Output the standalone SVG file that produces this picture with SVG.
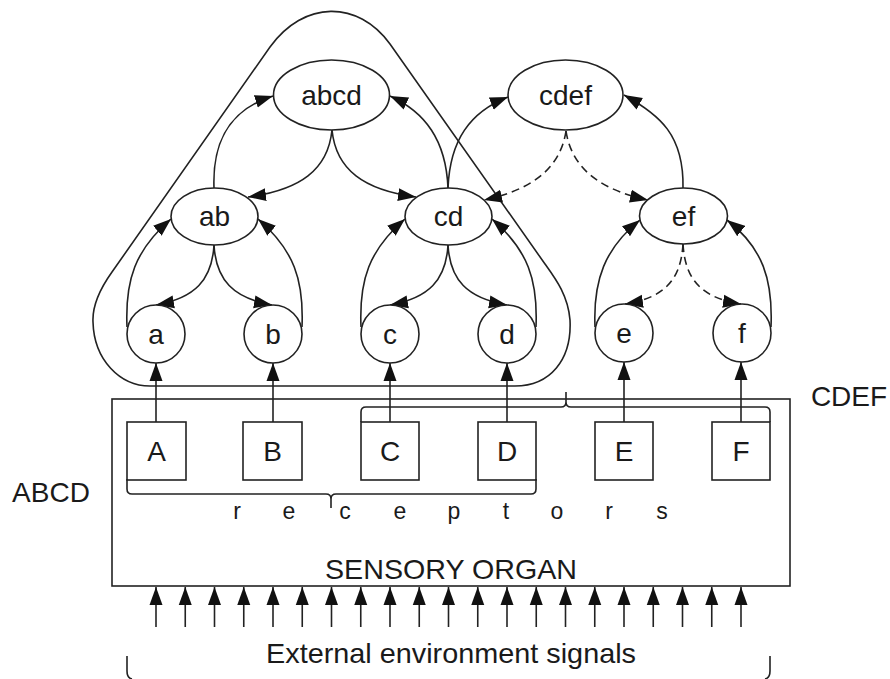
<svg xmlns="http://www.w3.org/2000/svg" width="890" height="679" viewBox="0 0 890 679">
<style>
  .ln{fill:none;stroke:#222;stroke-width:1.6}
  .ds{fill:none;stroke:#222;stroke-width:1.6;stroke-dasharray:8 5}
  .nd{fill:#fff;stroke:#222;stroke-width:1.6}
  .bx{fill:none;stroke:#222;stroke-width:1.6}
  .t{font-family:"Liberation Sans",Arial,sans-serif;fill:#1a1a1a;text-anchor:middle}
  .n{font-size:28px}
  .s{font-size:23px}
</style>
<defs>
  <marker id="ah" markerUnits="userSpaceOnUse" markerWidth="19" markerHeight="14" viewBox="0 0 19 14" refX="18" refY="7" orient="auto">
    <path d="M0,0.5 L18,7 L0,13.5 Z" fill="#111" stroke="none"/>
  </marker>
</defs>
<rect width="890" height="679" fill="#fff"/>

<!-- enclosing loop -->
<path id="loop" class="ln" d="M150,386 H515 C550,386 572,360 570,320 C568,295 555,278 545,264 L390,44 C358,0 304,0 270,47 L112,272 C102,286 92,303 93,322 C94,360 120,386 150,386 Z"/>

<!-- sensory organ -->
<g id="sensory-organ">
  <rect class="bx" x="112" y="399" width="678" height="187"/>
  <text class="t n" x="451" y="579" textLength="252" lengthAdjust="spacingAndGlyphs">SENSORY ORGAN</text>
</g>

<!-- receptors -->
<g id="A"><rect class="bx" x="127" y="422" width="59" height="58"/><text class="t n" x="156.5" y="461">A</text></g>
<g id="B"><rect class="bx" x="243" y="422" width="59" height="58"/><text class="t n" x="272.5" y="461">B</text></g>
<g id="C"><rect class="bx" x="361" y="422" width="58" height="58"/><text class="t n" x="390" y="461">C</text></g>
<g id="D"><rect class="bx" x="478" y="422" width="58" height="58"/><text class="t n" x="507" y="461">D</text></g>
<g id="E"><rect class="bx" x="595" y="422" width="58" height="58"/><text class="t n" x="624" y="461">E</text></g>
<g id="F"><rect class="bx" x="712" y="422" width="58" height="58"/><text class="t n" x="741" y="461">F</text></g>

<!-- braces -->
<g id="brace-ABCD">
  <path class="ln" d="M127,479 V489 Q127,494 132,494 H326 Q331,494 331,499 V508 M331,499 Q331,494 336,494 H531 Q536,494 536,489 V479"/>
  <text class="t n" x="51" y="502">ABCD</text>
</g>
<g id="brace-CDEF">
  <path class="ln" d="M361,422 V412 Q361,407 366,407 H561 Q566,407 566,402 V392 M566,402 Q566,407 571,407 H765 Q770,407 770,412 V422"/>
  <text class="t n" x="849" y="406">CDEF</text>
</g>
<text id="receptors-label" class="t s" x="237 289 345 400 454 506 557 609 662" y="519">receptors</text>

<!-- connectors -->
<g id="connectors" marker-end="url(#ah)">
  <!-- receptor to neuron -->
  <path class="ln" d="M156,422 V363"/>
  <path class="ln" d="M273,422 V363"/>
  <path class="ln" d="M390,422 V363"/>
  <path class="ln" d="M507,422 V363"/>
  <path class="ln" d="M624,422 V362"/>
  <path class="ln" d="M741,422 V362"/>
  <!-- ab group -->
  <path class="ln" d="M127,327 C125,280 135,250 171,219"/>
  <path class="ln" d="M302,327 C304,280 294,250 258,219"/>
  <path class="ln" d="M214,245 C212,280 195,298 156,305"/>
  <path class="ln" d="M214,245 C216,280 233,298 272,305"/>
  <!-- cd group -->
  <path class="ln" d="M361,327 C359,280 369,250 405,219"/>
  <path class="ln" d="M536,327 C538,280 528,250 492,219"/>
  <path class="ln" d="M448,245 C446,280 429,298 390,305"/>
  <path class="ln" d="M448,245 C450,280 467,298 507,305"/>
  <!-- ef group -->
  <path class="ln" d="M595,327 C593,280 605,248 640,220"/>
  <path class="ln" d="M771,327 C773,280 763,248 727,220"/>
  <path class="ds" d="M683,244 C681,280 664,298 625,304"/>
  <path class="ds" d="M683,244 C685,280 702,298 741,304"/>
  <!-- upper level -->
  <path class="ln" d="M214,188 C212,135 235,108 273,96"/>
  <path class="ln" d="M332,130 C328,170 300,190 248,197"/>
  <path class="ln" d="M332,130 C336,170 364,190 416,197"/>
  <path class="ln" d="M448,188 C446,140 425,112 390,96"/>
  <path class="ln" d="M448,188 C450,140 470,112 508,97"/>
  <path class="ds" d="M566,131 C560,170 530,190 484,200"/>
  <path class="ds" d="M566,131 C572,170 602,190 648,200"/>
  <path class="ln" d="M683,188 C684,135 660,115 624,95"/>
  <!-- external signals -->
  <path class="ln" d="M156,627 V587"/>
  <path class="ln" d="M185.25,627 V587"/>
  <path class="ln" d="M214.5,627 V587"/>
  <path class="ln" d="M243.75,627 V587"/>
  <path class="ln" d="M273,627 V587"/>
  <path class="ln" d="M302.25,627 V587"/>
  <path class="ln" d="M331.5,627 V587"/>
  <path class="ln" d="M360.75,627 V587"/>
  <path class="ln" d="M390,627 V587"/>
  <path class="ln" d="M419.25,627 V587"/>
  <path class="ln" d="M448.5,627 V587"/>
  <path class="ln" d="M477.75,627 V587"/>
  <path class="ln" d="M507,627 V587"/>
  <path class="ln" d="M536.25,627 V587"/>
  <path class="ln" d="M565.5,627 V587"/>
  <path class="ln" d="M594.75,627 V587"/>
  <path class="ln" d="M624,627 V587"/>
  <path class="ln" d="M653.25,627 V587"/>
  <path class="ln" d="M682.5,627 V587"/>
  <path class="ln" d="M711.75,627 V587"/>
  <path class="ln" d="M741,627 V587"/>
</g>

<!-- nodes -->
<g id="abcd"><ellipse class="nd" cx="331.5" cy="95" rx="58" ry="35"/><text class="t n" x="331.5" y="104.5">abcd</text></g>
<g id="cdef"><ellipse class="nd" cx="565.5" cy="95" rx="57.5" ry="35"/><text class="t n" x="565.5" y="104.5">cdef</text></g>
<g id="ab"><ellipse class="nd" cx="214.5" cy="216.5" rx="43.5" ry="28.5"/><text class="t n" x="214.5" y="226">ab</text></g>
<g id="cd"><ellipse class="nd" cx="448.5" cy="216.5" rx="43.5" ry="28.5"/><text class="t n" x="448.5" y="226">cd</text></g>
<g id="ef"><ellipse class="nd" cx="683.5" cy="216" rx="44" ry="28"/><text class="t n" x="683.5" y="225.5">ef</text></g>
<g id="a"><circle class="nd" cx="156" cy="334" r="29"/><text class="t n" x="156" y="343.5">a</text></g>
<g id="b"><circle class="nd" cx="273" cy="334" r="29"/><text class="t n" x="273" y="343.5">b</text></g>
<g id="c"><circle class="nd" cx="390" cy="334" r="29"/><text class="t n" x="390" y="343.5">c</text></g>
<g id="d"><circle class="nd" cx="507" cy="334" r="29"/><text class="t n" x="507" y="343.5">d</text></g>
<g id="e"><circle class="nd" cx="624" cy="333" r="29"/><text class="t n" x="624" y="342.5">e</text></g>
<g id="f"><circle class="nd" cx="742" cy="333" r="29"/><text class="t n" x="742" y="342.5">f</text></g>

<!-- external environment -->
<g id="external">
  <path class="ln" d="M127,656 V671 Q127,678 132,679 M770,656 V671 Q770,678 765,679"/>
  <text class="t n" x="451" y="663" textLength="370" lengthAdjust="spacingAndGlyphs">External environment signals</text>
</g>
</svg>
